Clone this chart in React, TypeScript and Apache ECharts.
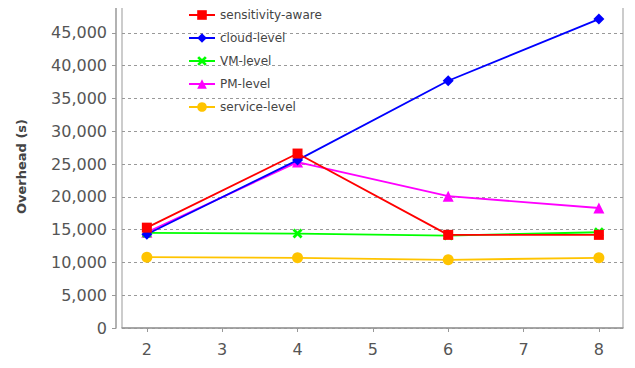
import React, { useEffect, useRef } from "react";
import * as echarts from "echarts";

const xValues = [2, 4, 6, 8];
const xTickLabels = [2, 3, 4, 5, 6, 7, 8];
const yTickValues = [0, 5000, 10000, 15000, 20000, 25000, 30000, 35000, 40000, 45000];

const sensitivityAware = [15300, 26600, 14200, 14200];
const cloudLevel = [14300, 25600, 37700, 47100];
const vmLevel = [14500, 14400, 14100, 14600];
const pmLevel = [14600, 25300, 20100, 18300];
const serviceLevel = [10800, 10700, 10400, 10700];

const seriesNames = ["sensitivity-aware", "cloud-level", "VM-level", "PM-level", "service-level"];

const crossPath = "path://M0,2L2,0L5,3L8,0L10,2L7,5L10,8L8,10L5,7L2,10L0,8L3,5Z";

function pairs(vals: number[]) {
  return vals.map((v, i) => [xValues[i], v]);
}

export default function App() {
  const ref = useRef<HTMLDivElement>(null);
  useEffect(() => {
    if (!ref.current) return;
    const chart = echarts.init(ref.current, undefined, { renderer: "svg" });
    const mk = (name: string, data: number[], color: string, symbol: string, size: number, z: number) => ({
      name,
      type: "line",
      data: pairs(data),
      symbol,
      symbolSize: size,
      showSymbol: true,
      z,
      lineStyle: { color, width: 1.8 },
      itemStyle: { color },
      emphasis: { disabled: true },
    });
    chart.setOption({
      animation: false,
      backgroundColor: "#ffffff",
      textStyle: { fontFamily: "DejaVu Sans" },
      grid: {
        left: 122,
        right: 12,
        top: 5,
        bottom: 40,
        show: true,
        borderColor: "#999999",
        borderWidth: 1,
        containLabel: false,
      },
      legend: {
        orient: "vertical",
        left: 183,
        top: 4,
        itemWidth: 26,
        itemHeight: 12,
        itemGap: 11,
        data: seriesNames,
        textStyle: { fontSize: 12, color: "#444444", fontFamily: "DejaVu Sans" },
      },
      xAxis: {
        type: "value",
        min: 1.67,
        max: 8.32,
        offset: 6,
        axisLine: { show: true, lineStyle: { color: "#999999", width: 1.5 } },
        axisTick: { show: true, length: 4, customValues: xTickLabels, lineStyle: { color: "#999999" } },
        axisLabel: {
          customValues: xTickLabels,
          fontSize: 16,
          color: "#555555",
          margin: 7,
        },
        splitLine: { show: false },
      },
      yAxis: {
        type: "value",
        min: 0,
        max: 49250,
        interval: 5000,
        offset: 6,
        name: "Overhead (s)",
        nameLocation: "middle",
        nameGap: 88,
        nameTextStyle: { fontSize: 13, fontWeight: "bold", color: "#444444" },
        axisLine: { show: true, lineStyle: { color: "#999999", width: 1.5 } },
        axisTick: { show: true, length: 4, customValues: yTickValues, lineStyle: { color: "#999999" } },
        axisLabel: {
          customValues: yTickValues,
          fontSize: 16,
          color: "#555555",
          margin: 9,
          formatter: (v: number) => v.toLocaleString("en-US"),
        },
        splitLine: { show: true, lineStyle: { color: "#999999", type: [3, 3], width: 1 } },
      },
      series: [
        mk(seriesNames[0], sensitivityAware, "#ff0000", "rect", 10, 5),
        mk(seriesNames[1], cloudLevel, "#0000ff", "diamond", 11, 4),
        mk(seriesNames[2], vmLevel, "#00ff00", crossPath, 10, 3),
        mk(seriesNames[3], pmLevel, "#ff00ff", "triangle", 11, 2),
        mk(seriesNames[4], serviceLevel, "#ffc400", "circle", 11, 1),
      ],
    });
    return () => chart.dispose();
  }, []);
  return <div ref={ref} style={{ width: 635, height: 368, margin: -8 }} />;
}
